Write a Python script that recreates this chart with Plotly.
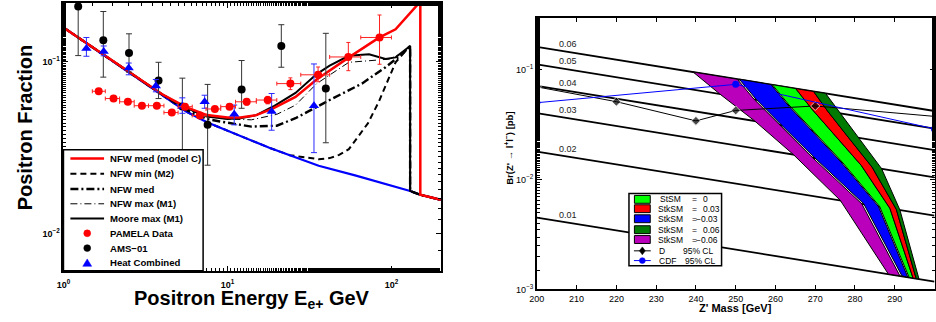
import numpy as np
import plotly.graph_objects as go

W, H = 936, 322
FONT = "Liberation Sans, Arial, Helvetica, sans-serif"

# ---------------- Left panel: positron fraction ----------------
bg_E = [1, 2, 3, 4, 5.6, 7.5, 10, 13, 18, 24, 36, 60, 100, 130, 150, 200]
bg_frac = [0.159, 0.101, 0.0778, 0.0645, 0.0514, 0.0445, 0.0397, 0.0357, 0.0316,
           0.0286, 0.0248, 0.0218, 0.0191, 0.0177, 0.0168, 0.0157]

nfw_c_E = [1, 2, 3, 4, 5.6, 7.5, 10, 12, 15, 19, 26, 35, 55, 70, 84, 106, 150, 150, 200]
nfw_c_frac = [0.159, 0.101, 0.0778, 0.0648, 0.0545, 0.049, 0.0475, 0.0475, 0.049, 0.0537,
              0.0626, 0.079, 0.1064, 0.123, 0.1387, 0.155, 0.225, 0.0168, 0.0157]

nfw_min_E = [1, 2, 3, 4, 5.6, 7.5, 10, 13, 18, 24, 30, 36, 42, 48, 55, 62, 72, 84, 95,
             106, 118, 130, 130, 150, 200]
nfw_min_frac = [0.159, 0.101, 0.0778, 0.0645, 0.0514, 0.0445, 0.0397, 0.0357, 0.0316,
                0.0286, 0.0277, 0.0271, 0.0275, 0.0287, 0.031, 0.036, 0.044, 0.059,
                0.078, 0.0996, 0.112, 0.124, 0.0177, 0.0168, 0.0157]

nfw_med_E = [1, 2, 3, 4, 5.6, 7.5, 9, 14, 20, 26, 33, 42, 66, 92, 116, 130, 130, 150, 200]
nfw_med_frac = [0.159, 0.101, 0.0778, 0.0646, 0.0525, 0.0465, 0.045, 0.042, 0.0425, 0.047,
                0.053, 0.060, 0.0748, 0.0932, 0.111, 0.124, 0.0177, 0.0168, 0.0157]

nfw_max_E = [1, 2, 3, 4, 5.6, 7.5, 10, 14, 20, 26, 35, 55, 73, 97, 115, 130, 130, 150, 200]
nfw_max_frac = [0.159, 0.101, 0.0778, 0.0646, 0.053, 0.048, 0.0465, 0.046, 0.0495, 0.056,
                0.0748, 0.0996, 0.1017, 0.104, 0.112, 0.124, 0.0177, 0.0168, 0.0157]

moore_E = [1, 2, 3, 4, 5.6, 7.5, 10, 12, 15, 19, 26, 35, 42, 55, 73, 92, 106, 130, 130, 150, 200]
moore_frac = [0.159, 0.101, 0.0778, 0.0647, 0.054, 0.048, 0.0465, 0.047, 0.049, 0.055,
              0.066, 0.085, 0.0953, 0.1087, 0.111, 0.104, 0.1064, 0.124, 0.0177, 0.0168, 0.0157]

pamela_E = [1.64, 2.02, 2.47, 3.01, 3.71, 4.58, 5.51, 6.79, 8.38, 10.3, 13.1, 17.6, 24.2, 35.7, 54.6, 84.6]
pamela_frac = [0.0675, 0.0612, 0.0586, 0.0556, 0.0556, 0.0507, 0.0549, 0.0488, 0.0532, 0.0549,
               0.0586, 0.060, 0.0748, 0.0842, 0.107, 0.139]
pamela_bin_lo = [1.5, 1.8, 2.2, 2.7, 3.3, 4.1, 5.0, 6.1, 7.4, 9.1, 11.2, 15, 20, 28, 42, 65]
pamela_bin_hi = [1.8, 2.2, 2.7, 3.3, 4.1, 5.0, 6.1, 7.4, 9.1, 11.2, 15, 20, 28, 42, 65, 100]
pamela_err_up = [0.0015, 0.0013, 0.0013, 0.0013, 0.0013, 0.0013, 0.0015, 0.0015, 0.0018, 0.002,
                 0.0025, 0.003, 0.006, 0.0093, 0.023, 0.049]
pamela_err_dn = [0.0015, 0.0013, 0.0013, 0.0013, 0.0013, 0.0013, 0.0015, 0.0015, 0.0018, 0.002,
                 0.0025, 0.003, 0.0058, 0.0075, 0.018, 0.042]

ams_E = [1.23, 1.75, 2.51, 3.80, 5.31, 7.57, 12.2, 21.3, 39.8]
ams_frac = [0.211, 0.134, 0.113, 0.0781, 0.055, 0.043, 0.069, 0.124, 0.070]
ams_err_up = [0.09, 0.063, 0.033, 0.0215, 0.0255, 0.031, 0.033, 0.041, 0.077]
ams_err_dn = [0.102, 0.0524, 0.0257, 0.0169, 0.033, 0.018, 0.0153, 0.0308, 0.0362]

heat_E = [1.38, 1.76, 2.5, 3.66, 5.31, 7.26, 11.0, 18.6, 33.7]
heat_frac = [0.12, 0.115, 0.0924, 0.0725, 0.055, 0.0586, 0.0495, 0.0514, 0.0556]
heat_err_up = [0.019, 0.009, 0.0062, 0.0066, 0.0068, 0.0054, 0.0066, 0.0141, 0.0418]
heat_err_dn = [0.012, 0.0063, 0.0082, 0.0055, 0.0048, 0.0049, 0.0065, 0.0114, 0.026]

left_xticks = [1, 10, 100]
left_xticktext = ["10<sup>0</sup>", "10<sup>1</sup>", "10<sup>2</sup>"]
left_yticks = [0.01, 0.1]
left_yticktext = ["10<sup>−2</sup>", "10<sup>−1</sup>"]

# ---------------- Right panel: Z' limits ----------------
coupling_labels = ["0.06", "0.05", "0.04", "0.03", "0.02", "0.01"]
line_mass = [200, 300]
br_at_200 = [0.162, 0.112, 0.0715, 0.0403, 0.0180, 0.00450]
br_at_300 = [0.0422, 0.0292, 0.0186, 0.0105, 0.00470, 0.00118]

# band edges: mass and Br at couplings 0.06, 0.05, 0.04, 0.03, 0.02, 0.01
edge0_M = [239.3, 246.0, 254.8, 264.5, 276.3, 288.4]
edge0_B = [0.0955, 0.0603, 0.0342, 0.01694, 0.00648, 0.00138]
edge1_M = [250.4, 254.7, 261.0, 269.3, 281.7, 291.3]
edge1_B = [0.0822, 0.0536, 0.0315, 0.0159, 0.00603, 0.00133]
edge1b_M = [250.9, 255.2, 261.5, 269.8, 282.2, 291.8]
edge2_M = [258.9, 263.1, 269.0, 276.5, 285.9, 293.3]
edge2_B = [0.0734, 0.0479, 0.0283, 0.01442, 0.00569, 0.00129]
edge2b_M = [259.2, 263.4, 269.3, 276.8, 286.2, 293.6]
edge3_M = [265.1, 269.1, 274.6, 281.6, 288.8, 294.6]
edge3_B = [0.0675, 0.0442, 0.0262, 0.01346, 0.00547, 0.00127]
edge4_M = [269.6, 273.2, 278.0, 284.3, 290.4, 295.4]
edge4_B = [0.0635, 0.0418, 0.0251, 0.0130, 0.00536, 0.001256]
edge5_M = [272.6, 276.2, 280.8, 286.7, 291.3, 296.1]
edge5_B = [0.0611, 0.0402, 0.0242, 0.01259, 0.00530, 0.001245]

d0_mass = [200, 220, 240, 250, 270, 300]
d0_br = [0.070, 0.0513, 0.0343, 0.0427, 0.0469, 0.0377]
cdf_mass = [200, 250, 300]
cdf_br = [0.0502, 0.0738, 0.029]

right_xticks = [200, 210, 220, 230, 240, 250, 260, 270, 280, 290, 300]
right_yticks = [0.001, 0.01, 0.1]
right_yticktext = ["10<sup>−3</sup>", "10<sup>−2</sup>", "10<sup>−1</sup>"]

band_names = ["StSM", "StkSM", "StkSM", "StkSM", "StkSM"]
band_values = ["0", "0.03", "−0.03", "0.06", "−0.06"]
band_colors = ["#00ff00", "#ff0000", "#0000ff", "#007a00", "#bb00bb"]

fig = go.Figure()

def line(x, y, color, width, dash="solid", xa="x", ya="y"):
    fig.add_trace(go.Scatter(x=x, y=y, mode="lines", xaxis=xa, yaxis=ya,
                             line=dict(color=color, width=width, dash=dash),
                             showlegend=False, hoverinfo="skip"))

# left panel curves (order matters)
line(nfw_min_E, nfw_min_frac, "black", 2, "6px,4px")
line(bg_E, bg_frac, "#0000ff", 2.2)
line(nfw_med_E, nfw_med_frac, "black", 2.4, "8px,3px,2px,3px")
line(nfw_max_E, nfw_max_frac, "black", 1, "7px,3px,1px,3px")
line(moore_E, moore_frac, "black", 2)
line(nfw_c_E, nfw_c_frac, "#ff0000", 2.5)

ex_plus = [h - e for h, e in zip(pamela_bin_hi, pamela_E)]
ex_minus = [e - l for l, e in zip(pamela_bin_lo, pamela_E)]
fig.add_trace(go.Scatter(
    x=ams_E, y=ams_frac, mode="markers", xaxis="x", yaxis="y",
    marker=dict(color="black", size=8),
    error_y=dict(type="data", array=ams_err_up, arrayminus=ams_err_dn,
                 color="#333333", thickness=1, width=3),
    showlegend=False, hoverinfo="skip"))
fig.add_trace(go.Scatter(
    x=heat_E, y=heat_frac, mode="markers", xaxis="x", yaxis="y",
    marker=dict(color="#0000ff", size=9, symbol="triangle-up"),
    error_y=dict(type="data", array=heat_err_up, arrayminus=heat_err_dn,
                 color="#2a2aff", thickness=1, width=3),
    showlegend=False, hoverinfo="skip"))
fig.add_trace(go.Scatter(
    x=pamela_E, y=pamela_frac, mode="markers", xaxis="x", yaxis="y",
    marker=dict(color="#ff0000", size=8),
    error_x=dict(type="data", array=ex_plus, arrayminus=ex_minus,
                 color="#ff2020", thickness=1, width=2),
    error_y=dict(type="data", array=pamela_err_up, arrayminus=pamela_err_dn,
                 color="#ff2020", thickness=1, width=2),
    showlegend=False, hoverinfo="skip"))

# right panel: coupling lines
for b0, b1 in zip(br_at_200, br_at_300):
    line(line_mass, [b0, b1], "black", 1.8, xa="x2", ya="y2")

def band(lm, lb, rm, rb, color):
    xs = list(lm) + list(rm[::-1]) + [lm[0]]
    ys = list(lb) + list(rb[::-1]) + [lb[0]]
    fig.add_trace(go.Scatter(x=xs, y=ys, mode="lines", fill="toself", fillcolor=color,
                             line=dict(color="black", width=1), xaxis="x2", yaxis="y2",
                             showlegend=False, hoverinfo="skip"))

band(edge0_M, edge0_B, edge1_M, edge1_B, band_colors[4])
band(edge1b_M, edge1_B, edge2_M, edge2_B, band_colors[2])
band(edge2b_M, edge2_B, edge3_M, edge3_B, band_colors[0])
band(edge3_M, edge3_B, edge4_M, edge4_B, band_colors[1])
band(edge4_M, edge4_B, edge5_M, edge5_B, band_colors[3])

fig.add_trace(go.Scatter(x=d0_mass, y=d0_br, mode="lines+markers", xaxis="x2", yaxis="y2",
                         line=dict(color="black", width=1),
                         marker=dict(symbol="diamond", size=[7, 7, 7, 7, 7, 0], color="black"),
                         showlegend=False, hoverinfo="skip"))
fig.add_trace(go.Scatter(x=cdf_mass, y=cdf_br, mode="lines+markers", xaxis="x2", yaxis="y2",
                         line=dict(color="#0000ff", width=1),
                         marker=dict(symbol="circle", size=7, color="#0000ff"),
                         showlegend=False, hoverinfo="skip"))

# ---------------- helpers for paper coordinates ----------------
def px(x):
    return x / W

def py(y):
    return (H - y) / H

shapes = []
annotations = []

def note(x, y, text, size, bold=False, anchor="left", color="black"):
    annotations.append(dict(xref="paper", yref="paper", x=px(x), y=py(y), text=text,
                            showarrow=False, xanchor=anchor, yanchor="middle",
                            font=dict(family=FONT, size=size, color=color,
                                      weight="bold" if bold else "normal")))

# left legend box
shapes.append(dict(type="rect", xref="paper", yref="paper", x0=px(56), x1=px(197),
                   y0=py(275), y1=py(152), fillcolor="white",
                   line=dict(color="black", width=1.5), layer="above"))
leg_rows = [161, 176.5, 192, 207, 222, 237, 252, 267]
leg_labels = ["NFW med (model C)", "NFW min (M2)", "NFW med", "NFW max (M1)",
              "Moore max (M1)", "PAMELA Data", "AMS−01", "Heat Combined"]
leg_lines = [("#ff0000", 2.5, "solid"), ("black", 2, "6px,4px"),
             ("black", 2.4, "8px,3px,2px,3px"), ("black", 1, "7px,3px,1px,3px"),
             ("black", 2, "solid")]
for i, (c, w, d) in enumerate(leg_lines):
    shapes.append(dict(type="line", xref="paper", yref="paper", x0=px(63), x1=px(97),
                       y0=py(leg_rows[i]), y1=py(leg_rows[i]),
                       line=dict(color=c, width=w, dash=d), layer="above"))
for i, c in [(5, "#ff0000"), (6, "black")]:
    shapes.append(dict(type="circle", xref="paper", yref="paper",
                       x0=px(76.5), x1=px(83.5), y0=py(leg_rows[i] + 3.5), y1=py(leg_rows[i] - 3.5),
                       fillcolor=c, line=dict(color=c, width=0.5), layer="above"))
ty = leg_rows[7]
shapes.append(dict(type="path", xref="paper", yref="paper",
                   path=f"M {px(80)},{py(ty-4)} L {px(84.5)},{py(ty+3.5)} L {px(75.5)},{py(ty+3.5)} Z",
                   fillcolor="#0000ff", line=dict(color="#0000ff", width=0.5), layer="above"))
for yv, t in zip(leg_rows, leg_labels):
    note(100.5, yv, t, 9.6, bold=True)

# right legend box
shapes.append(dict(type="rect", xref="paper", yref="paper", x0=px(627), x1=px(720.5),
                   y0=py(270), y1=py(196.5), fillcolor="white",
                   line=dict(color="black", width=1.5), layer="above"))
rrows = [202.5, 212, 222.2, 233.3, 243.3, 254.8, 264.7]
for i in range(5):
    shapes.append(dict(type="rect", xref="paper", yref="paper", x0=px(632.5), x1=px(648.5),
                       y0=py(rrows[i] + 4), y1=py(rrows[i] - 4), fillcolor=band_colors[i],
                       line=dict(color="black", width=1), layer="above"))
    note(654 if band_names[i] == "StkSM" else 656, rrows[i], band_names[i], 8.5)
    note(688.5, rrows[i], "=", 8.5)
    note(693 if band_values[i].startswith("−") else 700, rrows[i], band_values[i], 8.5)
# D0 legend
yd = rrows[5]
shapes.append(dict(type="line", xref="paper", yref="paper", x0=px(632), x1=px(649),
                   y0=py(yd), y1=py(yd), line=dict(color="black", width=1), layer="above"))
shapes.append(dict(type="path", xref="paper", yref="paper",
                   path=f"M {px(640.5)},{py(yd-4)} L {px(643.5)},{py(yd)} L {px(640.5)},{py(yd+4)} L {px(637.5)},{py(yd)} Z",
                   fillcolor="black", line=dict(color="black", width=0.5), layer="above"))
note(655.3, yd, "D", 8.5)
note(679.3, yd, "95% CL", 8.5)
yc = rrows[6]
shapes.append(dict(type="line", xref="paper", yref="paper", x0=px(632), x1=px(649),
                   y0=py(yc), y1=py(yc), line=dict(color="#0000ff", width=1), layer="above"))
shapes.append(dict(type="circle", xref="paper", yref="paper", x0=px(637.5), x1=px(643.5),
                   y0=py(yc + 3), y1=py(yc - 3), fillcolor="#0000ff",
                   line=dict(color="#0000ff", width=0.5), layer="above"))
note(655.3, yc, "CDF", 8.5)
note(682, yc, "95% CL", 8.5)

# coupling labels on the right panel
for lab, b0 in zip(coupling_labels, br_at_200):
    annotations.append(dict(xref="x2", yref="y2", x=205, y=np.log10(b0), text=lab,
                            showarrow=False, xanchor="left", yanchor="bottom", yshift=-4,
                            font=dict(family=FONT, size=9, color="#222222")))

# axis titles
annotations.append(dict(xref="paper", yref="paper", x=px(17.5), y=py(129),
                        text="Positron Fraction", textangle=-90, showarrow=False,
                        xanchor="center", yanchor="middle",
                        font=dict(family=FONT, size=20, color="black", weight="bold")))
annotations.append(dict(xref="paper", yref="paper", x=px(246.5), y=py(290.5),
                        text="Positron Energy E<sub>e+</sub> GeV", showarrow=False,
                        xanchor="center", yanchor="top", borderpad=0,
                        font=dict(family=FONT, size=20, color="black", weight="bold")))
annotations.append(dict(xref="paper", yref="paper", x=px(734.5), y=py(313),
                        text="Z' Mass [GeV]", showarrow=False, borderpad=0,
                        xanchor="center", yanchor="middle",
                        font=dict(family=FONT, size=11, color="black", weight="bold")))
annotations.append(dict(xref="paper", yref="paper", x=px(506), y=py(151),
                        text="Br(Z' → l<sup>+</sup>l<sup>−</sup>) [pb]", textangle=-90,
                        showarrow=False, xanchor="center", yanchor="middle",
                        font=dict(family=FONT, size=9.5, color="black", weight="bold")))

minor_l = dict(ticks="inside", ticklen=3, tickwidth=1, tickcolor="black", showgrid=False)

fig.update_layout(
    width=W, height=H, margin=dict(l=0, r=0, t=0, b=0),
    paper_bgcolor="white", plot_bgcolor="white", showlegend=False,
    font=dict(family=FONT, color="black"),
    xaxis=dict(domain=[px(56), px(437)], type="log", range=[0, np.log10(200)],
               tickvals=left_xticks, ticktext=left_xticktext, ticks="inside", ticklen=5,
               tickwidth=1, tickcolor="black", showline=True, linewidth=2, linecolor="black",
               mirror="ticks", showgrid=False, zeroline=False, minor=minor_l,
               ticklabelstandoff=4,
               tickfont=dict(family=FONT, size=9, color="black", weight="bold"), anchor="y"),
    yaxis=dict(domain=[py(275), py(3)], type="log", range=[np.log10(0.00606), np.log10(0.221)],
               tickvals=left_yticks, ticktext=left_yticktext, ticks="inside", ticklen=5,
               tickwidth=1, tickcolor="black", showline=True, linewidth=2, linecolor="black",
               mirror="ticks", showgrid=False, zeroline=False, minor=minor_l,
               tickfont=dict(family=FONT, size=9, color="black", weight="bold"), anchor="x"),
    xaxis2=dict(domain=[px(534), px(935.5)], range=[200, 300], tickvals=right_xticks,
                ticks="inside", ticklen=5, tickwidth=1, tickcolor="black", showline=True,
                linewidth=1.5, linecolor="black", mirror="ticks", showgrid=False, zeroline=False,
                ticklabelstandoff=0,
                tickfont=dict(family=FONT, size=9, color="black"), anchor="y2"),
    yaxis2=dict(domain=[py(294), py(18)], type="log", range=[-3, -0.525],
                tickvals=right_yticks, ticktext=right_yticktext, ticks="inside", ticklen=5,
                tickwidth=1, tickcolor="black", showline=True, linewidth=1.5, linecolor="black",
                mirror="ticks", showgrid=False, zeroline=False, minor=minor_l,
                tickfont=dict(family=FONT, size=9, color="black"), anchor="x2"),
    shapes=shapes, annotations=annotations,
)

fig.write_html("out.html", config={"displayModeBar": False},
               post_script="document.body.style.margin='0px';")
